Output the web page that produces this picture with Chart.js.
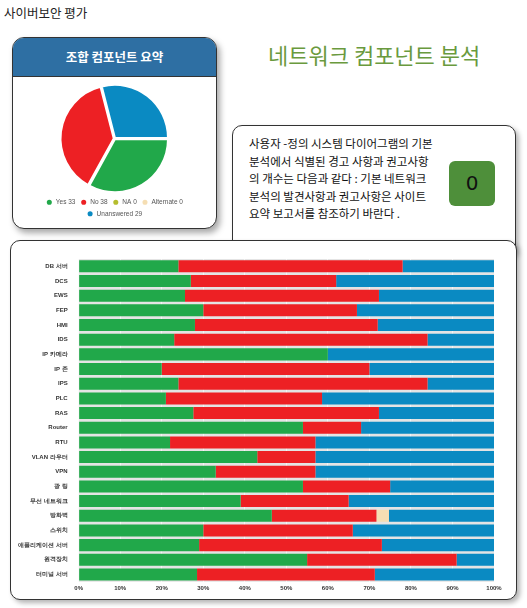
<!DOCTYPE html>
<html><head><meta charset="utf-8">
<script src="https://cdn.jsdelivr.net/npm/chart.js@4.4.0/dist/chart.umd.min.js"></script>
<style>
body{margin:0;width:527px;height:608px;position:relative;background:#fff;font-family:"Noto Sans CJK KR","Noto Sans",sans-serif;overflow:hidden}
.abs{position:absolute}
#title{left:4px;top:3px;font-size:12.5px;color:#222}
#pieCard{left:12px;top:37px;width:203px;height:190px;border:1.5px solid #333;border-radius:12px;overflow:hidden;box-shadow:3px 4px 6px rgba(0,0,0,.35);background:#fff}
#pieHead{height:38px;background:#2e6fa3;color:#fff;font-weight:bold;font-size:12.5px;text-align:center;line-height:38px;border-bottom:1.5px solid #333}
#netTitle{left:268px;top:38px;font-size:22px;color:#6a9a3e}
#textCard{left:232px;top:125px;width:282px;height:130px;border:1.5px solid #333;border-radius:10px;background:#fff;box-shadow:3px 3px 5px rgba(0,0,0,.3)}
#txt{left:16px;top:9px;font-size:11.5px;line-height:17.5px;color:#111;width:190px}
#zero{left:216px;top:35px;width:46px;height:45px;background:#4e8f3a;border-radius:6px;font-size:20px;font-family:"DejaVu Sans";text-align:center;line-height:45px;color:#111}
#barCard{left:10px;top:240px;width:505px;height:358px;border:1.5px solid #333;border-radius:10px;background:#fff;box-shadow:3px 3px 5px rgba(0,0,0,.3)}
</style></head><body>
<div id="title" class="abs">사이버보안 평가</div>
<div id="pieCard" class="abs"><div id="pieHead">조합 컴포넌트 요약</div>
<div style="position:relative;width:203px;height:150px"><canvas id="pie"></canvas></div></div>
<div id="netTitle" class="abs">네트워크 컴포넌트 분석</div>
<div id="textCard" class="abs"><div id="txt" class="abs">사용자 -정의 시스템 다이어그램의 기본 분석에서 식별된 경고 사항과 권고사항 의 개수는 다음과 같다 : 기본 네트워크 분석의 발견사항과 권고사항은 사이트 요약 보고서를 참조하기 바란다 .</div><div id="zero" class="abs">0</div></div>
<div id="barCard" class="abs"><div style="position:relative;width:505px;height:356px"><canvas id="bar"></canvas></div></div>
<script>
const pieLabels=['Yes 33','No 38','NA 0','Alternate 0','Unanswered 29'];
const pieValues=[33,38,0,0,29];
const pieColors=['#21a84a','#ed2024','#b5bd2e','#f5deb3','#0a8ac2'];
const categories=['DB 서버','DCS','EWS','FEP','HMI','IDS','IP 카메라','IP 존','IPS','PLC','RAS','Router','RTU','VLAN 라우터','VPN','광 링','무선 네트워크','방화벽','스위치','애플리케이션 서버','원격장치','터미널 서버'];
const yesV=[24,27,25.6,30,28,23,60,20,24,21,27.6,54,22,43,33,54,39,46.5,30,29,55,28.5];
const noV=[54,35,46.7,37,44,61,0,50,60,37.6,44.7,14,35,14,24,21,26,25.2,36,44,36,42.8];
const altV=[0,0,0,0,0,0,0,0,0,0,0,0,0,0,0,0,0,3,0,0,0,0];
const unV=[22,38,27.7,33,28,16,40,30,16,41.4,27.7,32,43,43,43,25,35,25.3,34,27,9,28.7];
const xTicks=[0,10,20,30,40,50,60,70,80,90,100];
new Chart(document.getElementById('pie'),{type:'pie',
 data:{labels:pieLabels,datasets:[{data:pieValues,backgroundColor:pieColors,borderColor:'#fff',borderWidth:2,offset:3}]},
 options:{responsive:true,maintainAspectRatio:false,animation:false,rotation:90,
  layout:{padding:{top:6,left:10,right:10,bottom:0}},
  plugins:{legend:{position:'bottom',labels:{boxWidth:8,boxHeight:5,usePointStyle:true,pointStyle:'ellipse',font:{size:6.5},color:'#555',padding:5}},tooltip:{enabled:false}}}});
const bgPlugin={id:'bg',beforeDraw(c){const a=c.chartArea,x=c.ctx;if(c.config.type!=='bar')return;x.save();x.fillStyle='#e4e4e4';x.fillRect(a.left,a.top,a.right-a.left,a.bottom-a.top);x.restore();}};
const ds=(l,d,c)=>({label:l,data:d,backgroundColor:c,barPercentage:1,categoryPercentage:0.82});
new Chart(document.getElementById('bar'),{type:'bar',plugins:[bgPlugin],
 data:{labels:categories,datasets:[ds('Yes',yesV,'#21a84a'),ds('No',noV,'#ed2024'),ds('Alternate',altV,'#f5deb3'),ds('Unanswered',unV,'#0a8ac2')]},
 options:{indexAxis:'y',responsive:true,maintainAspectRatio:false,animation:false,
  layout:{padding:{top:18,right:22,left:4,bottom:2}},
  plugins:{legend:{display:false},tooltip:{enabled:false}},
  scales:{x:{stacked:true,min:0,max:100,afterBuildTicks(s){s.ticks=xTicks.map(v=>({value:v}));},
     ticks:{callback:v=>v+'%',font:{size:6,weight:'bold'},color:'#333',maxRotation:0},grid:{color:'rgba(255,255,255,0.6)',drawTicks:false},border:{display:false}},
   y:{stacked:true,ticks:{font:{size:6,weight:'bold'},color:'#333',autoSkip:false},grid:{display:false},border:{display:false}}}}});
</script></body></html>
